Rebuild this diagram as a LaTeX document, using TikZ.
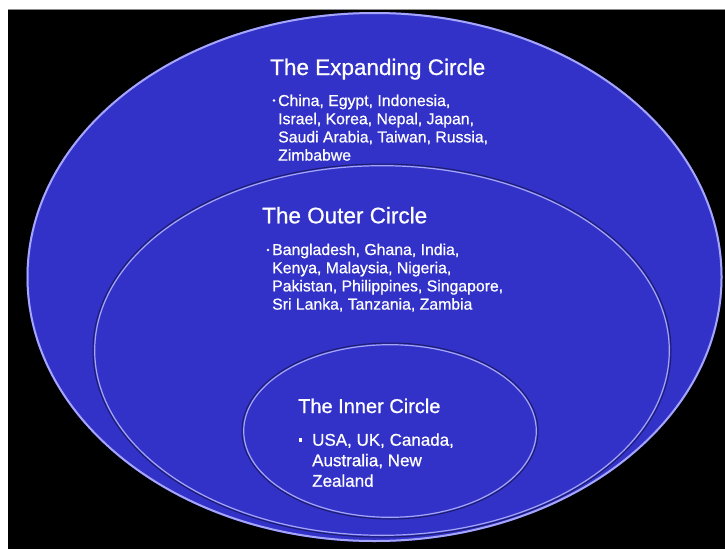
\documentclass[tikz,border=0pt]{standalone}
\usepackage{fontspec}
\setmainfont{Liberation Sans}
\newfontfamily\heavysans[FakeBold=0.7]{Liberation Sans}
\definecolor{discblue}{RGB}{50,50,200}
\definecolor{rimlight}{RGB}{165,165,250}
\definecolor{rimdark}{RGB}{28,28,105}
\begin{document}
\begin{tikzpicture}[x=1pt,y=-1pt,
  circtitle/.style={text=white, inner sep=0pt, font=\heavysans\fontsize{22.5}{26}\selectfont},
  innertitle/.style={text=white, inner sep=0pt, font=\heavysans\fontsize{20}{24}\selectfont},
  bodytext/.style={text=white, inner sep=0pt, align=left, font=\heavysans\fontsize{15.8}{18.2}\selectfont},
  innerbody/.style={text=white, inner sep=0pt, align=left, font=\heavysans\fontsize{17}{20.5}\selectfont},
  dot/.style={circle, fill=white, inner sep=0pt, minimum size=2.6pt},
  bigdot/.style={rectangle, fill=white, inner sep=0pt, minimum size=3.4pt},
  rimouter/.style={draw=rimlight, line width=2pt},
  rimdk/.style={draw=rimdark, line width=1pt},
  rimlt/.style={draw=rimlight, line width=1.2pt}
]
\useasboundingbox (0,0) rectangle (725,549);
% page and black backdrop
\fill[white] (0,0) rectangle (725,549);
\fill[black] (8,9) rectangle (725,549);
\draw[black!45, line width=1pt] (8,9) -- (725,9);

% expanding circle
\fill[discblue] (374.5,277) ellipse [x radius=348, y radius=265];
\draw[rimouter] (374.5,277) ellipse [x radius=347, y radius=264];

% outer circle
\fill[discblue] (382,350.5) ellipse [x radius=288, y radius=185.5];
\draw[rimdk] (382,350.5) ellipse [x radius=289, y radius=186.5];
\draw[rimlt] (382,350.5) ellipse [x radius=287.3, y radius=184.8];

% inner circle
\fill[discblue] (390,431) ellipse [x radius=147, y radius=87];
\draw[rimdk] (390,431) ellipse [x radius=148, y radius=88];
\draw[rimlt] (390,431) ellipse [x radius=146.3, y radius=86.3];

% labels (multi-line blocks are placed by the baseline of their last line)
\node[circtitle, anchor=base west] (exptitle) at (270,75) {The Expanding Circle};
\node[dot] (expdot) at (274,100.5) {};
\node[bodytext, anchor=base west] (explist) at (278,160.6) {China, Egypt, Indonesia,\\Israel, Korea, Nepal, Japan,\\Saudi Arabia, Taiwan, Russia,\\Zimbabwe};

\node[circtitle, anchor=base west] (outtitle) at (262,223.3) {The Outer Circle};
\node[dot] (outdot) at (268,250) {};
\node[bodytext, anchor=base west] (outlist) at (272,309.6) {Bangladesh, Ghana, India,\\Kenya, Malaysia, Nigeria,\\Pakistan, Philippines, Singapore,\\Sri Lanka, Tanzania, Zambia};

\node[innertitle, anchor=base west] (intitle) at (298,413) {The Inner Circle};
\node[bigdot] (indot) at (300.5,440) {};
\node[innerbody, anchor=base west] (inlist) at (312,486.7) {USA, UK, Canada,\\Australia, New\\Zealand};
\end{tikzpicture}
\end{document}
